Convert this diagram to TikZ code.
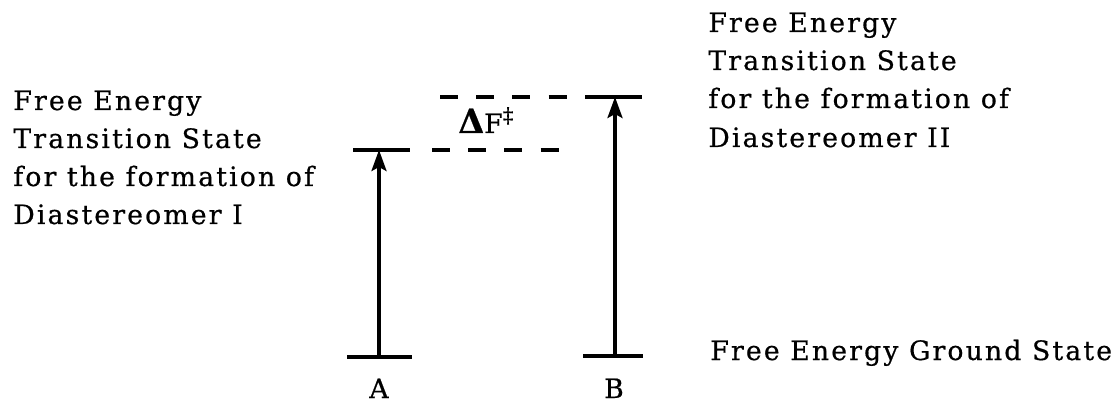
\documentclass[tikz,border=0pt]{standalone}
\usepackage{fontspec}
\setmainfont{DejaVu Serif}[LetterSpace=8,FakeBold=0.6]
\usetikzlibrary{arrows.meta}
\begin{document}
\begin{tikzpicture}[x=0.02cm,y=-0.02cm,
  level/.style={line width=2pt},
  dashlevel/.style={line width=2pt, dash pattern=on 10.2pt off 10.4pt},
  rise/.style={line width=1.9pt, -{Stealth[length=0.42cm,width=0.3cm,inset=0.08cm]}},
  lbl/.style={anchor=base west, inner sep=0pt, font=\fontsize{15.2}{18}\selectfont},
  clbl/.style={anchor=base, inner sep=0pt, font=\fontsize{15.2}{18}\selectfont}]
\useasboundingbox (0,0) rectangle (1115,405);
% levels A
\coordinate (aTL) at (353,150); \coordinate (aTR) at (410,150); \coordinate (aT) at (379,150);
\coordinate (aBL) at (347,357); \coordinate (aBR) at (412,357); \coordinate (aB) at (379,357);
% levels B
\coordinate (bTL) at (585,97); \coordinate (bTR) at (642,97); \coordinate (bT) at (615,97);
\coordinate (bBL) at (583,356); \coordinate (bBR) at (643,356); \coordinate (bB) at (615,356);
% dashed
\coordinate (uS) at (440,97); \coordinate (uE) at (567,97);
\coordinate (lS) at (432,150); \coordinate (lE) at (560,150);
\draw[level] (aTL) -- (aTR);
\draw[level] (aBL) -- (aBR);
\draw[level] (bTL) -- (bTR);
\draw[level] (bBL) -- (bBR);
\draw[dashlevel] (uS) -- (uE);
\draw[dashlevel] (lS) -- (lE);
\draw[rise] (aB) -- (aT);
\draw[rise] (bB) -- (bT);
% labels
\node[lbl] (dF) at (458,133) {{\fontsize{19}{20}\selectfont\bfseries Δ}F\raisebox{0.75ex}{\fontsize{12}{12}\selectfont ‡}};
\node[clbl] (lA) at (379,398) {A};
\node[clbl] (lB) at (614,398) {B};
\node[lbl] (l1) at (13,110) {Free Energy};
\node[lbl] (l2) at (13,148) {Transition State};
\node[lbl] (l3) at (13,186) {for the formation of};
\node[lbl] (l4) at (13,224) {Diastereomer I};
\node[lbl] (r1) at (708,32) {Free Energy};
\node[lbl] (r2) at (708,70) {Transition State};
\node[lbl] (r3) at (708,108) {for the formation of};
\node[lbl] (r4) at (708,147) {Diastereomer II};
\node[lbl] (g1) at (710,360) {Free Energy Ground State};
\end{tikzpicture}
\end{document}
